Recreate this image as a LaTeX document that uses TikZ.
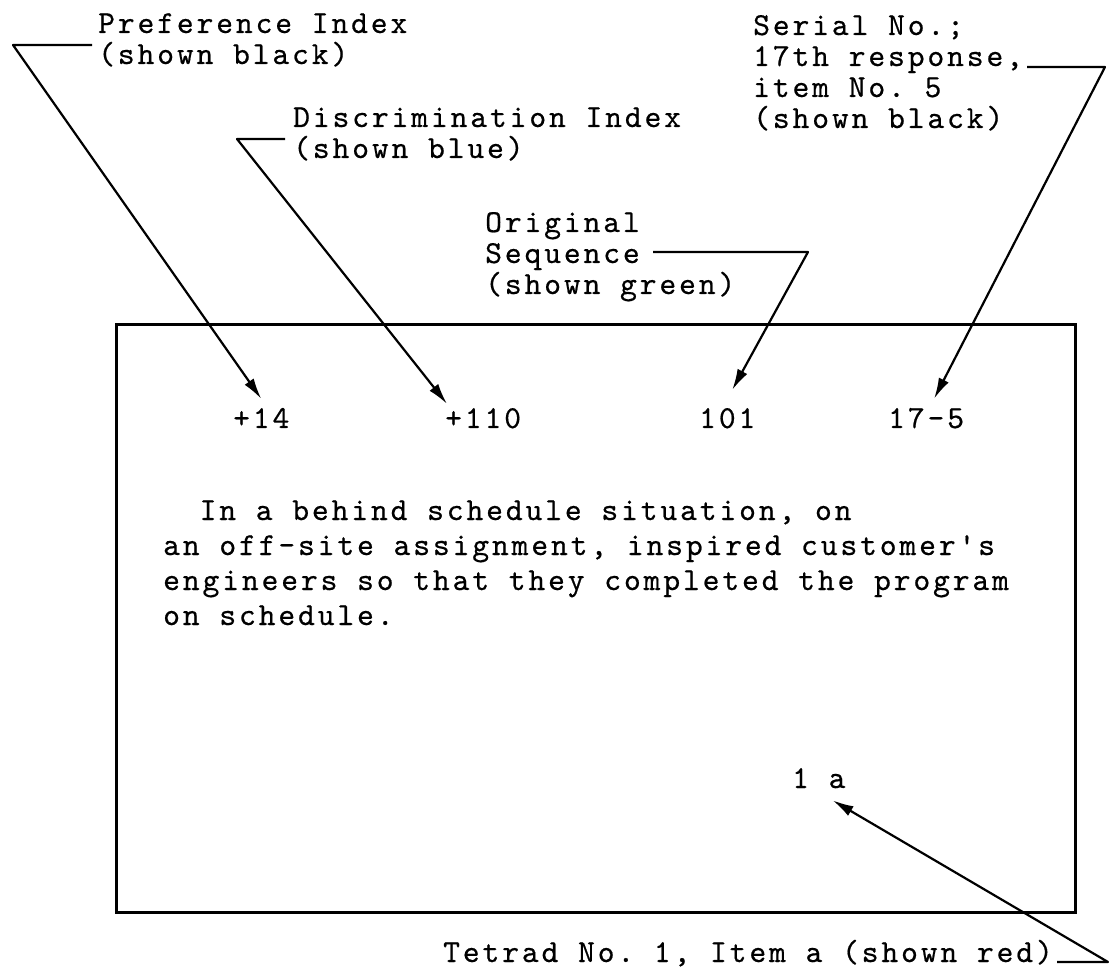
\documentclass[tikz,border=0pt]{standalone}
\usepackage{fontspec}
\setmonofont{lmmono10-regular.otf}[LetterSpace=9,FakeBold=0.5]
\usetikzlibrary{arrows.meta}
\newcommand\typer[1]{\fontsize{32}{#1}\ttfamily}
\tikzset{
  lbl/.style={font=\typer{31pt}, align=left, inner sep=0pt, anchor=base west},
  para/.style={font=\typer{35pt}, align=left, inner sep=0pt, anchor=base west},
  pointer/.style={line width=2.2pt, line join=round, -{Latex[length=21pt,width=11pt]}},
}
\begin{document}
\begin{tikzpicture}[x=1pt,y=-1pt]
\useasboundingbox (0,0) rectangle (1109,973);
% the card
\draw[line width=3pt] (116,325) rectangle (1075,912);
% labels round the card (anchored on their last line)
\node[lbl] (pref) at (98,64) {Preference Index\\(shown black)};
\node[lbl] (disc) at (293,158) {Discrimination Index\\(shown blue)};
\node[lbl] (orig) at (485,294) {Original\\Sequence\\(shown green)};
\node[lbl] (serial) at (753,128) {Serial No.;\\17th response,\\item No. 5\\(shown black)};
\node[lbl] (tetrad) at (443,962) {Tetrad No. 1, Item a (shown red)};
% what is typed on the card
\node[lbl] (n14) at (233,428) {+14};
\node[lbl] (n110) at (445,428) {+110};
\node[lbl] (n101) at (699,428) {101};
\node[lbl] (n175) at (888,428) {17-5};
\node[para] (stmt) at (163,625) {\phantom{In}In a behind schedule situation, on\\an off-site assignment, inspired customer's\\engineers so that they completed the program\\on schedule.};
\node[lbl] (item) at (792,788) {1 a};
% bends of the pointers
\coordinate (prefbend) at (13,45);
\coordinate (discbend) at (237,139);
\coordinate (origbend) at (808,252);
\coordinate (serialbend) at (1105,67);
\coordinate (tetradbend) at (1108,962);
\draw[pointer] ([xshift=-6pt]pref.west |- prefbend) -- (prefbend) -- ([yshift=9pt]n14.north);
\draw[pointer] ([xshift=-8pt]disc.west |- discbend) -- (discbend) -- ([xshift=2pt,yshift=4pt]n110.north west);
\draw[pointer] ([xshift=168pt]orig.west |- origbend) -- (origbend) -- ([xshift=5pt,yshift=18pt]n101.north);
\draw[pointer] ([xshift=4pt]serial.east |- serialbend) -- (serialbend) -- ([xshift=8pt,yshift=9pt]n175.north);
\draw[pointer] ([xshift=4pt]tetrad.east |- tetradbend) -- (tetradbend) -- ([xshift=-13pt,yshift=-12pt]item.south east);
\end{tikzpicture}
\end{document}
